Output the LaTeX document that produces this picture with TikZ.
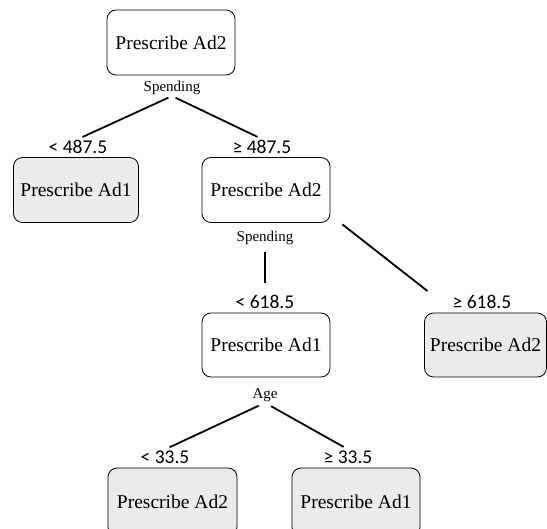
\documentclass[tikz,border=0pt]{standalone}
\usepackage{fontspec}
\setmainfont{Liberation Serif}
\newfontfamily\numfont{Carlito}
\begin{document}
\begin{tikzpicture}[x=1pt,y=-1pt,
  box/.style={draw=black, line width=0.8pt, rounded corners=9pt,
    minimum width=128pt, minimum height=65pt, inner sep=2pt,
    font=\fontsize{19.5}{22}\selectfont, fill=white},
  leaf/.style={box, fill=black!8},
  feat/.style={font=\fontsize{15}{17}\selectfont, inner sep=1pt},
  cond/.style={font=\numfont\fontsize{19.5}{22}\selectfont, inner sep=1pt},
  branch/.style={line width=1.8pt}]
\useasboundingbox (0,0) rectangle (547,529);

% decision nodes and leaves
\node[box]  (root) at (171,42.5) {Prescribe Ad2};
\node[leaf, minimum width=125pt] (n1) at (76,190) {Prescribe Ad1};
\node[box]  (n2) at (266,190) {Prescribe Ad2};
\node[box, minimum height=64pt] (n3) at (266,345) {Prescribe Ad1};
\node[leaf, minimum width=122pt, minimum height=64pt] (n4) at (485.5,345) {Prescribe Ad2};
\node[leaf, minimum width=129pt, minimum height=68pt] (n5) at (172.5,502) {Prescribe Ad2};
\node[leaf, minimum height=68pt] (n6) at (356,502) {Prescribe Ad1};

% split features
\node[feat] (f1) at (172,88) {Spending};
\node[feat] (f2) at (265,238) {Spending};
\node[feat] (f3) at (265,395) {Age};

% branch conditions
\node[cond] (c1) at (78,147) {< 487.5};
\node[cond] (c2) at (262,147) {≥ 487.5};
\node[cond] (c3) at (265,302) {< 618.5};
\node[cond] (c4) at (482,302) {≥ 618.5};
\node[cond] (c5) at (165,457) {< 33.5};
\node[cond] (c6) at (348,457) {≥ 33.5};

% branches
\draw[branch, shorten <=4pt, shorten >=5pt] (f1.south) -- (c1.north);
\draw[branch, shorten <=4pt, shorten >=5pt] (f1.south) -- (c2.north);
\draw[branch, shorten <=6pt, shorten >=11pt] (f2.south) -- (c3.north);
\draw[branch] ([xshift=12pt,yshift=-1.5pt]n2.south east) -- ([xshift=-24pt,yshift=3pt]c4.north west);
\draw[branch, shorten <=7pt, shorten >=5pt] (f3.south) -- (c5.north);
\draw[branch, shorten <=7pt, shorten >=5pt] (f3.south) -- (c6.north);
\end{tikzpicture}
\end{document}
